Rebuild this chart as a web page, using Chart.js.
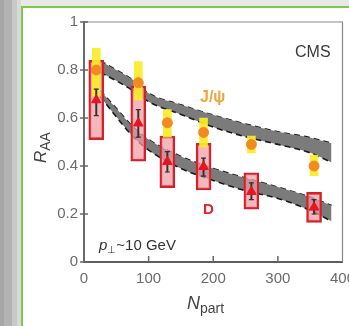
<!DOCTYPE html>
<html><head><meta charset="utf-8">
<script src="https://cdn.jsdelivr.net/npm/chart.js@4"></script>
<style>
html,body{margin:0;padding:0;width:349px;height:326px;overflow:hidden;background:#e8e8e8;}
#bg{position:absolute;left:0;top:0;width:349px;height:326px;
background:linear-gradient(to right,#a6a6a6 0,#a6a6a6 4px,#b2b2b2 4px,#b2b2b2 12px,#c8c8c8 12px,#c8c8c8 17px,#d9d9d9 17px,#d9d9d9 21px,transparent 21px);}
#panel{position:absolute;left:21px;top:6px;width:340px;height:340px;border-left:2.5px solid #7ecb42;border-top:2.5px solid #7ecb42;background:#fff;}
canvas{position:absolute;left:0;top:0;}
</style></head>
<body>
<div id="bg"></div><div id="panel"></div>
<canvas id="c" width="349" height="326"></canvas>
<script>
// ---- data ----
const npart = [19, 84, 129, 185, 259, 356];
const jpsiRaa = [0.80, 0.747, 0.58, 0.54, 0.49, 0.40];
const jpsiSysLo = [0.69, 0.675, 0.52, 0.48, 0.455, 0.36];
const jpsiSysHi = [0.89, 0.835, 0.635, 0.60, 0.525, 0.445];
const dRaa = [0.675, 0.578, 0.418, 0.397, 0.293, 0.228];
const dStatLo = [0.61, 0.52, 0.375, 0.358, 0.26, 0.20];
const dStatHi = [0.72, 0.635, 0.46, 0.433, 0.33, 0.26];
const dSysLo = [0.51, 0.42, 0.31, 0.30, 0.22, 0.165];
const dSysHi = [0.84, 0.733, 0.525, 0.494, 0.372, 0.29];
const bandN = [25, 50, 75, 100, 150, 200, 250, 300, 350, 383];
const jpsiBandHi = [0.838, 0.80, 0.76, 0.703, 0.655, 0.612, 0.575, 0.543, 0.518, 0.495];
const jpsiBandLo = [0.79, 0.755, 0.715, 0.668, 0.615, 0.562, 0.522, 0.49, 0.455, 0.415];
const dBandHi = [0.715, 0.64, 0.565, 0.51, 0.44, 0.39, 0.35, 0.312, 0.27, 0.235];
const dBandLo = [0.69, 0.605, 0.525, 0.466, 0.39, 0.34, 0.297, 0.265, 0.215, 0.17];
const xTicks = [0, 100, 200, 300, 400];
const yTicks = [0, 0.2, 0.4, 0.6, 0.8, 1];
const yTickLabels = ['0', '0.2', '0.4', '0.6', '0.8', '1'];

const pts = (xs, ys) => xs.map((x, i) => ({x, y: ys[i]}));
const rng = (xs, lo, hi) => xs.map((x, i) => ({x, y: [lo[i], hi[i]]}));
const FONT = "'Liberation Sans', Arial, sans-serif";

const bandStyle = {type:'line', borderColor:'#1a1a1a', borderWidth:1.6, borderDash:[6,4], pointRadius:0, cubicInterpolationMode:'monotone'};

const decor = {
  id:'decor',
  beforeDatasetsDraw(chart){
    const {ctx, chartArea:a, scales:{x, y}} = chart;
    ctx.save();
    ctx.strokeStyle = '#8a8a8a'; ctx.lineWidth = 1.2;
    ctx.beginPath(); ctx.moveTo(a.left, a.top); ctx.lineTo(a.right, a.top); ctx.lineTo(a.right, a.bottom); ctx.stroke();
    ctx.strokeStyle = '#666'; ctx.lineWidth = 1.5;
    yTicks.forEach(v => { const py = y.getPixelForValue(v); ctx.beginPath(); ctx.moveTo(a.left - 4, py); ctx.lineTo(a.left + 4, py); ctx.stroke(); });
    xTicks.slice(1, 4).forEach(v => { const px = x.getPixelForValue(v); ctx.beginPath(); ctx.moveTo(px, a.bottom); ctx.lineTo(px, a.bottom - 6); ctx.stroke(); });
    ctx.restore();
  },
  afterDatasetsDraw(chart){
    const {ctx} = chart;
    ctx.save();
    ctx.textBaseline = 'alphabetic'; ctx.textAlign = 'left';
    ctx.fillStyle = '#3a3a3a'; ctx.font = '16px ' + FONT;
    ctx.fillText('CMS', 295, 57);
    ctx.fillStyle = '#f0a43a'; ctx.font = 'bold 16px ' + FONT;
    ctx.fillText('J/ψ', 200, 102);
    ctx.fillStyle = '#e3242b'; ctx.font = 'bold 15px ' + FONT;
    ctx.fillText('D', 203, 214);
    // pT label
    ctx.fillStyle = '#333';
    ctx.font = 'italic 15px ' + FONT;
    let xx = 99; ctx.fillText('p', xx, 250); xx += ctx.measureText('p').width;
    ctx.font = '10px ' + FONT; ctx.fillText('⊥', xx, 253); xx += ctx.measureText('⊥').width;
    ctx.font = '15px ' + FONT; ctx.fillText('~10 GeV', xx, 250);
    // x title
    ctx.fillStyle = '#444';
    ctx.font = 'italic 18px ' + FONT; ctx.fillText('N', 187, 309);
    let nw = ctx.measureText('N').width;
    ctx.font = '14px ' + FONT; ctx.fillText('part', 187 + nw, 313);
    // y title
    ctx.translate(46, 163); ctx.rotate(-Math.PI / 2);
    ctx.font = 'italic 17px ' + FONT; ctx.fillText('R', 0, 0);
    let rw = ctx.measureText('R').width;
    ctx.font = '14px ' + FONT; ctx.fillText('AA', rw, 4);
    ctx.restore();
  }
};

new Chart(document.getElementById('c'), {
  type: 'line',
  data: { datasets: [
    Object.assign({data: pts(bandN, jpsiBandHi), fill:false, order:20}, bandStyle),
    Object.assign({data: pts(bandN, jpsiBandLo), fill:'-1', backgroundColor:'#7b7b7b', order:19}, bandStyle),
    Object.assign({data: pts(bandN, dBandHi), fill:false, order:18}, bandStyle),
    Object.assign({data: pts(bandN, dBandLo), fill:'-1', backgroundColor:'#7b7b7b', order:17}, bandStyle),
    {type:'bar', data: rng(npart, dSysLo, dSysHi), backgroundColor:'rgba(240,155,165,0.72)', borderColor:'#d4202a', borderWidth:2.2, borderSkipped:false, barThickness:15, grouped:false, order:10},
    {type:'bar', data: rng(npart, jpsiSysLo, jpsiSysHi), backgroundColor:'rgba(248,236,40,0.92)', borderWidth:0, barThickness:8, grouped:false, order:8},
    {type:'bar', data: rng(npart, dStatLo, dStatHi), backgroundColor:'#333', borderWidth:0, barThickness:1.3, grouped:false, order:6},
    {type:'line', data: pts(npart, dStatLo).concat(pts(npart, dStatHi)), showLine:false, pointStyle:'line', pointRadius:2.5, borderColor:'#333', borderWidth:1.2, order:5},
    {type:'line', data: pts(npart, jpsiRaa), showLine:false, pointStyle:'circle', pointRadius:5, backgroundColor:'#f28a22', borderColor:'#f28a22', borderWidth:1, order:3},
    {type:'line', data: pts(npart, dRaa), showLine:false, pointStyle:'triangle', pointRadius:5.5, backgroundColor:'#e5161f', borderColor:'#e5161f', borderWidth:1, order:2}
  ]},
  options: {
    responsive:false, animation:false, devicePixelRatio:1,
    layout:{padding:{top:22, right:3, left:0, bottom:0}},
    plugins:{legend:{display:false}, tooltip:{enabled:false}},
    scales:{
      x:{type:'linear', min:0, max:400, offset:false,
        afterBuildTicks: s => { s.ticks = xTicks.map(v => ({value:v})); },
        ticks:{color:'#6b6b6b', font:{size:15, family:FONT}, padding:8, maxRotation:0, autoSkip:false},
        grid:{display:true, drawOnChartArea:false, drawTicks:false},
        border:{display:true, color:'#5e5e5e', width:2},
        afterFit: s => { s.height = 64; s.paddingLeft = 0; s.paddingRight = 0; }
      },
      y:{type:'linear', min:0, max:1,
        afterBuildTicks: s => { s.ticks = yTicks.map(v => ({value:v})); },
        ticks:{color:'#6b6b6b', font:{size:15, family:FONT}, padding:6,
          callback: (v, i) => yTickLabels[i]},
        grid:{display:true, drawOnChartArea:false, drawTicks:false},
        border:{display:true, color:'#6a6a6a', width:2},
        afterFit: s => { s.width = 84; s.paddingTop = 0; s.paddingBottom = 0; }
      }
    }
  },
  plugins:[decor]
});
</script>
</body></html>
